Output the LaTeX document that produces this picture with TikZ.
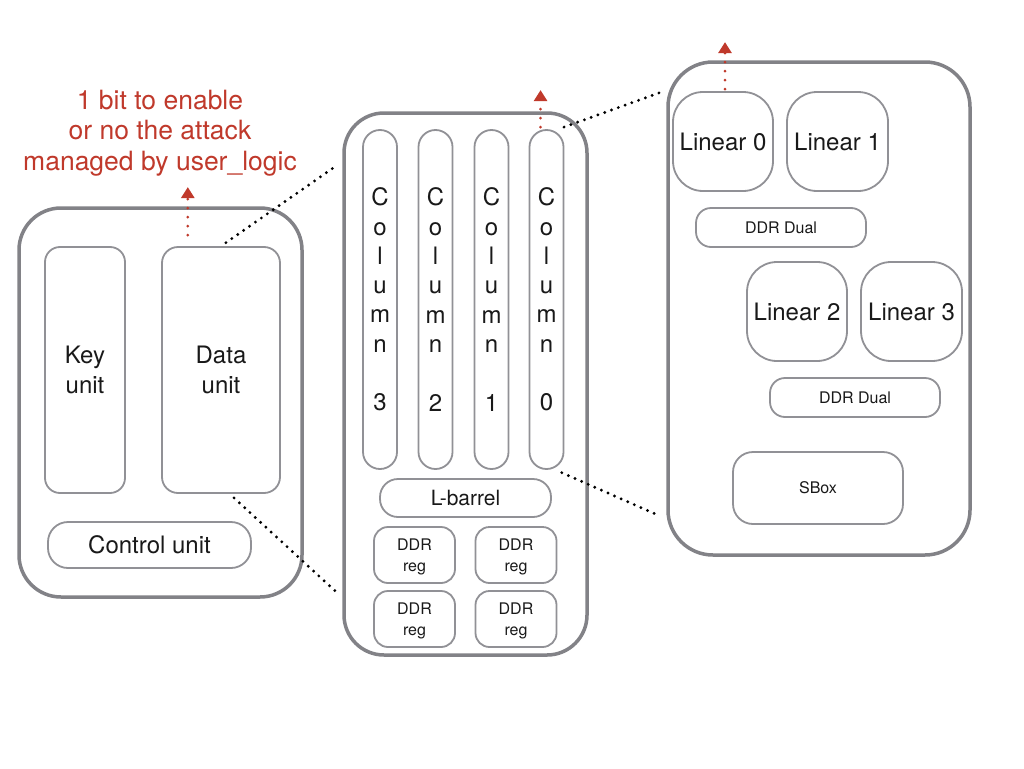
\documentclass[tikz,border=0pt]{standalone}
\usepackage{fontspec}
\setmainfont{TeX Gyre Heros}
\usepackage{tikz}
\usepackage{xcolor}
\usetikzlibrary{arrows.meta}
\definecolor{boxgray}{RGB}{130,130,135}
\definecolor{unitgray}{RGB}{145,145,150}
\definecolor{flagred}{RGB}{192,57,43}
\definecolor{inkblack}{RGB}{25,25,25}

\tikzset{
  outerbox/.style={draw=boxgray,line width=3.5pt,fill=white},
  unitbox/.style={draw=unitgray,line width=1.8pt,inner sep=0pt,align=center,text=inkblack},
  bigtext/.style={font=\fontsize{24}{30}\selectfont},
  smalltext/.style={font=\fontsize{16}{21}\selectfont},
  zoomline/.style={line width=3.2pt,dash pattern=on 0pt off 7.2pt,line cap=round},
  flagline/.style={flagred,line width=3pt,dash pattern=on 0pt off 9pt,line cap=round,-{Triangle[width=13pt,length=11pt]}},
}

\begin{document}
\begin{tikzpicture}[x=1pt,y=-1pt]
            \useasboundingbox[fill=white] (0,0) rectangle (1024,768);

            % Top level
            \node[outerbox,rounded corners=42pt,minimum width=283pt,minimum height=389pt] (core) at (160.5,402.5) {};
            \node[unitbox,bigtext,rounded corners=15pt,minimum width=80pt,minimum height=246pt] (kunit) at (85,370) {Key\\unit};
            \node[unitbox,bigtext,rounded corners=16pt,minimum width=118pt,minimum height=246pt] (dunit) at (221,370) {Data\\unit};
            \node[unitbox,bigtext,rounded corners=20pt,minimum width=203pt,minimum height=46pt] (cunit) at (149.5,545) {Control unit};
            \node[text=flagred,align=center,font=\fontsize{26.5}{30.5}\selectfont] (note) at (160,133) {1 bit to enable\\or no the attack\\managed by user\_logic};

            % Data unit
            \node[outerbox,rounded corners=40pt,minimum width=243pt,minimum height=542pt] (dpath) at (465.5,384) {};
            \foreach \i/\x in {3/380,2/435.5,1/491.5,0/546.5}
                \node[unitbox,font=\fontsize{24}{29.3}\selectfont,rounded corners=17pt,minimum width=34pt,minimum height=339pt] (c\i) at (\x,299.5) {C\\o\\l\\u\\m\\n\\[29.3pt]\i};
            \node[unitbox,font=\fontsize{21}{25}\selectfont,rounded corners=18pt,minimum width=171pt,minimum height=38pt] (lbar) at (465.5,498) {L-barrel};
            \node[unitbox,smalltext,text depth=0pt,rounded corners=14pt,minimum width=81pt,minimum height=56pt] (reg1) at (414.5,555) {DDR\\reg};
            \node[unitbox,smalltext,text depth=0pt,rounded corners=14pt,minimum width=81pt,minimum height=56pt] (reg2) at (516,555) {DDR\\reg};
            \node[unitbox,smalltext,text depth=0pt,rounded corners=14pt,minimum width=81pt,minimum height=56pt] (reg3) at (414.5,619) {DDR\\reg};
            \node[unitbox,smalltext,text depth=0pt,rounded corners=14pt,minimum width=81pt,minimum height=56pt] (reg4) at (516,619) {DDR\\reg};

            % Column
            \node[outerbox,rounded corners=45pt,minimum width=302pt,minimum height=493pt] (colz) at (819,308.5) {};
            \node[unitbox,bigtext,rounded corners=30pt,minimum width=100pt,minimum height=99pt] (lin0) at (723,141.5) {Linear 0};
            \node[unitbox,bigtext,rounded corners=30pt,minimum width=101pt,minimum height=99pt] (lin1) at (837.5,141.5) {Linear 1};
            \node[unitbox,smalltext,rounded corners=15pt,minimum width=170pt,minimum height=39pt] (dual1) at (781,227.5) {DDR Dual};
            \node[unitbox,bigtext,rounded corners=30pt,minimum width=100pt,minimum height=99pt] (lin2) at (797,311.5) {Linear 2};
            \node[unitbox,bigtext,rounded corners=30pt,minimum width=101pt,minimum height=99pt] (lin3) at (911.5,311.5) {Linear 3};
            \node[unitbox,smalltext,rounded corners=15pt,minimum width=170pt,minimum height=39pt] (dual2) at (855,397.5) {DDR Dual};
            \node[unitbox,smalltext,rounded corners=20pt,minimum width=170pt,minimum height=72pt] (sbox) at (818,488) {SBox};

            % Zoom lines
            \draw[zoomline,shorten <=6pt,shorten >=5pt] (dunit.north) -- (dpath.119.5);
            \draw[zoomline,shorten <=6pt,shorten >=3pt] (dunit.274) -- (dpath.240);
            \draw[zoomline,shorten <=6pt,shorten >=7pt] (c0.86.5) -- (colz.125);
            \draw[zoomline,shorten <=7pt,shorten >=7pt] (c0.273.2) -- (colz.234);

            % Attack flags
            \draw[flagline,shorten <=11pt] (dunit.105.5) -- ++(0,-59);
            \draw[flagline,shorten <=2pt] (c0.92.2) -- ++(0,-39);
            \draw[flagline,shorten <=2pt] ([xshift=2pt]lin0.north) -- ++(0,-49);
        \end{tikzpicture}
\end{document}
